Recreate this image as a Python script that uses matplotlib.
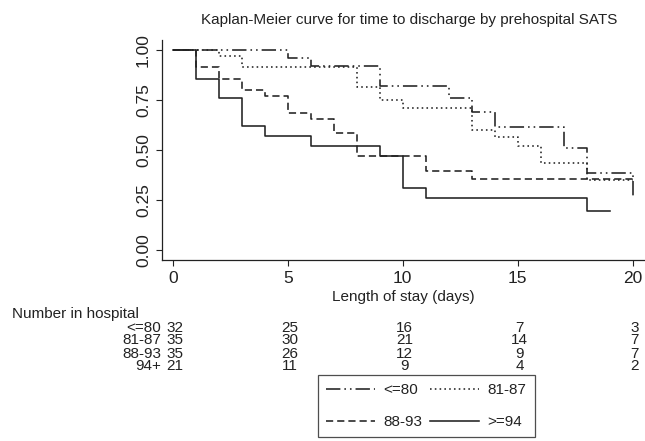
import numpy as np
import matplotlib
matplotlib.use('Agg')
import matplotlib.pyplot as plt

plt.rcParams['font.family'] = ['Liberation Sans', 'DejaVu Sans']

# Kaplan-Meier step data (time of step, survival after the step)
t_le80 = [0, 5, 6, 9, 12, 13, 14, 17, 18, 20]
s_le80 = [1.0, 0.96, 0.92, 0.82, 0.76, 0.69, 0.615, 0.51, 0.385, 0.26]

t_81_87 = [0, 2, 3, 8, 9, 10, 13, 14, 15, 16, 18, 20]
s_81_87 = [1.0, 0.971, 0.914, 0.815, 0.75, 0.71, 0.60, 0.565, 0.52, 0.435, 0.35, 0.35]

t_88_93 = [0, 1, 2, 3, 4, 5, 6, 7, 8, 11, 13, 20]
s_88_93 = [1.0, 0.914, 0.857, 0.80, 0.771, 0.686, 0.657, 0.583, 0.47, 0.395, 0.355, 0.355]

t_ge94 = [0, 1, 2, 3, 4, 6, 9, 10, 11, 18, 19]
s_ge94 = [1.0, 0.857, 0.762, 0.619, 0.571, 0.52, 0.47, 0.31, 0.26, 0.195, 0.195]

# number at risk table
risk_times = [0, 5, 10, 15, 20]
risk_labels = ['<=80', '81-87', '88-93', '94+']
risk_le80 = [32, 25, 16, 7, 3]
risk_81_87 = [35, 30, 21, 14, 7]
risk_88_93 = [35, 26, 12, 9, 7]
risk_ge94 = [21, 11, 9, 4, 2]

legend_labels = ['<=80', '81-87', '88-93', '>=94']

ink = '#222222'
W, H = 645, 441
fig = plt.figure(figsize=(W / 100, H / 100), dpi=100)
ax = fig.add_axes([162 / W, 1 - 259.7 / H, 482 / W, (259.7 - 40) / H])

styles = [
    dict(dashes=(9, 2.5, 1, 2.5, 1, 2.5)),
    dict(dashes=(1, 2)),
    dict(dashes=(4.5, 2.5)),
    dict(linestyle='-'),
]
series = [(t_le80, s_le80), (t_81_87, s_81_87), (t_88_93, s_88_93), (t_ge94, s_ge94)]
handles = []
for (tt, ss), st, lab in zip(series, styles, legend_labels):
    ln, = ax.step(tt, ss, where='post', color=ink, lw=1.15, label=lab, **st)
    handles.append(ln)

ax.set_xlim(-0.47, 20.5)
ax.set_ylim(-0.0485, 1.05)
ax.set_xticks([0, 5, 10, 15, 20])
ax.set_yticks([0, 0.25, 0.5, 0.75, 1.0])
ax.set_yticklabels(['0.00', '0.25', '0.50', '0.75', '1.00'], rotation=90, va='center')
ax.tick_params(direction='out', length=4, width=0.8, color=ink, labelcolor=ink,
               labelsize=12.5, pad=4)
for sp in ['top', 'right']:
    ax.spines[sp].set_visible(False)
for sp in ['left', 'bottom']:
    ax.spines[sp].set_color(ink)
    ax.spines[sp].set_linewidth(0.9)
ax.set_xlabel('Length of stay (days)', fontsize=11, color=ink, labelpad=3)

fig.text(409 / W, 1 - 20 / H, 'Kaplan-Meier curve for time to discharge by prehospital SATS',
         ha='center', va='center', fontsize=11, color=ink)

# risk table
fig.text(12 / W, 1 - 314 / H, 'Number in hospital', ha='left', va='center',
         fontsize=11, color=ink)
rows = [risk_le80, risk_81_87, risk_88_93, risk_ge94]
row_y = [327.5, 340.5, 353.5, 366]
for lab, vals, yy in zip(risk_labels, rows, row_y):
    fig.text(161 / W, 1 - yy / H, lab, ha='right', va='center', fontsize=11, color=ink)
    for tt, v in zip(risk_times, vals):
        xp = ax.transData.transform((tt, 0))[0] / fig.bbox.width
        fig.text(xp + 2 / W, 1 - yy / H, str(v), ha='center', va='center',
                 fontsize=11, color=ink)

# legend filled column by column -> reorder so rows read <=80, 81-87 / 88-93, >=94
order = [0, 2, 1, 3]
leg = fig.legend(handles=[handles[i] for i in order], labels=[legend_labels[i] for i in order],
                 loc='upper left', bbox_to_anchor=(318 / W, 1 - 375 / H),
                 ncol=2, fontsize=11, handlelength=3.2, handletextpad=0.55,
                 columnspacing=0.5, labelspacing=1.15, borderpad=0.55,
                 borderaxespad=0, frameon=True, fancybox=False, labelcolor=ink)
leg.get_frame().set_edgecolor(ink)
leg.get_frame().set_linewidth(0.9)

fig.savefig('out.png', dpi=100)
